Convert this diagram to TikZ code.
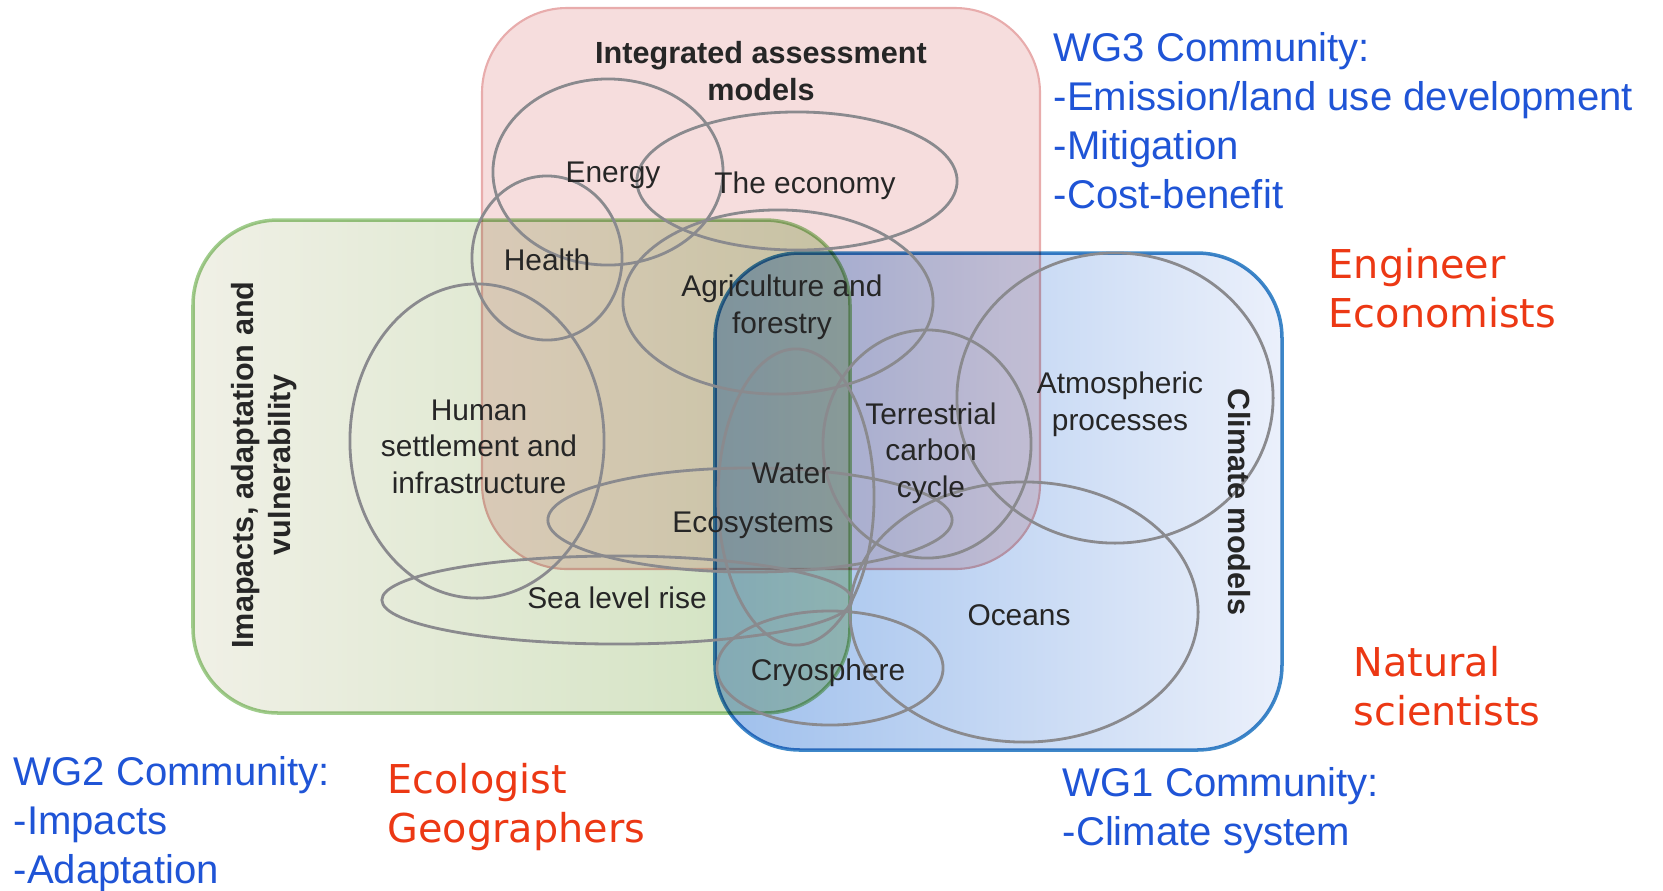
\documentclass[tikz,border=0pt]{standalone}
\usepackage{fontspec}
\setmainfont{Liberation Sans}
\newfontfamily\verdana{DejaVu Sans}
\usetikzlibrary{shapes.geometric}

\definecolor{iamfill}{RGB}{246,221,221}
\definecolor{iamedge}{RGB}{232,172,172}
\definecolor{iavleft}{RGB}{240,240,230}
\definecolor{iavright}{RGB}{206,225,188}
\definecolor{iavedge}{RGB}{160,205,140}
\definecolor{cmleft}{RGB}{158,191,236}
\definecolor{cmright}{RGB}{235,240,251}
\definecolor{cmedge}{RGB}{62,136,201}
\definecolor{ringgrey}{RGB}{138,138,142}
\definecolor{labelgrey}{RGB}{38,38,38}
\definecolor{wgblue}{RGB}{31,84,214}
\definecolor{whored}{RGB}{236,56,20}

\begin{document}
\begin{tikzpicture}[x=0.01cm,y=-0.01cm,
	ring/.style={draw=ringgrey,line width=0.8pt,shape=ellipse,inner sep=0pt},
	lbl/.style={text=labelgrey,font=\fontsize{8.5}{10.3}\selectfont,align=center,anchor=base,inner sep=0pt},
	head/.style={text=labelgrey,font=\fontsize{8.7}{10.5}\selectfont\bfseries,align=center,inner sep=0pt},
	wg/.style={text=wgblue,font=\fontsize{11.4}{13.86}\selectfont,align=left,anchor=base west,inner sep=0pt},
	who/.style={text=whored,font=\verdana\fontsize{11.3}{13.86}\selectfont,align=left,anchor=base west,inner sep=0pt},
	box/.style={rounded corners=0.85cm,line width=1pt}]
	\useasboundingbox (0,0) rectangle (1663,890);

	\path[box,fill=iamfill,draw=iamedge,line width=0.6pt] (482,8) rectangle (1040,569);
	\begin{scope}[blend mode=multiply]
		\path[box,left color=iavleft,right color=iavright,draw=iavedge] (193,220) rectangle (850,713);
		\path[box,left color=cmleft,right color=cmright,draw=cmedge] (715,253) rectangle (1282,750);
	\end{scope}

	\draw (608,172) node (energy) [ring,minimum width=2.30cm,minimum height=1.86cm] {};
	\draw (797,181) node (economy) [ring,minimum width=3.20cm,minimum height=1.38cm] {};
	\draw (547,258) node (health) [ring,minimum width=1.50cm,minimum height=1.64cm] {};
	\draw (778,302) node (agri) [ring,minimum width=3.10cm,minimum height=1.84cm] {};
	\draw (477,441) node (human) [ring,minimum width=2.54cm,minimum height=3.14cm] {};
	\draw (1115,398) node (atmos) [ring,minimum width=3.16cm,minimum height=2.90cm] {};
	\draw (927,444) node (terr) [ring,minimum width=2.08cm,minimum height=2.28cm] {};
	\draw (796,497) node (water) [ring,minimum width=1.56cm,minimum height=2.96cm] {};
	\draw (750,520) node (eco) [ring,minimum width=4.04cm,minimum height=1.04cm] {};
	\draw (617,600) node (sea) [ring,minimum width=4.70cm,minimum height=0.88cm] {};
	\draw (1024,612) node (oceans) [ring,minimum width=3.48cm,minimum height=2.60cm] {};
	\draw (830,668) node (cryo) [ring,minimum width=2.26cm,minimum height=1.14cm] {};

	\node (iam) [head,anchor=base] at (761,100) {Integrated assessment\\models};
	\node (iav) [head,rotate=90] at (264,465) {Imapacts, adaptation and\\vulnerability};
	\node (cm) [head,rotate=-90] at (1239,502) {Climate models};

	\node (tenergy) [lbl] at (613,182) {Energy};
	\node (teconomy) [lbl] at (805,193) {The economy};
	\node (thealth) [lbl] at (547,270) {Health};
	\node (tagri) [lbl] at (782,333) {Agriculture and\\forestry};
	\node (thuman) [lbl] at (479,493) {Human\\settlement and\\infrastructure};
	\node (tatmos) [lbl] at (1120,430) {Atmospheric\\processes};
	\node (tterr) [lbl] at (931,497) {Terrestrial\\carbon\\cycle};
	\node (twater) [lbl] at (791,483) {Water};
	\node (teco) [lbl] at (753,532) {Ecosystems};
	\node (tsea) [lbl] at (617,608) {Sea level rise};
	\node (toceans) [lbl] at (1019,625) {Oceans};
	\node (tcryo) [lbl] at (828,680) {Cryosphere};

	\node (wg3) [wg] at (1053,208) {WG3 Community:\\-Emission/land use development\\-Mitigation\\-Cost-benefit};
	\node (wg2) [wg] at (13,883) {WG2 Community:\\-Impacts\\-Adaptation};
	\node (wg1) [wg] at (1062,845) {WG1 Community:\\-Climate system};
	\node (eng) [who] at (1328,327) {Engineer\\Economists};
	\node (nat) [who] at (1353,725) {Natural\\scientists};
	\node (eco2) [who] at (387,842) {Ecologist\\Geographers};
\end{tikzpicture}
\end{document}
